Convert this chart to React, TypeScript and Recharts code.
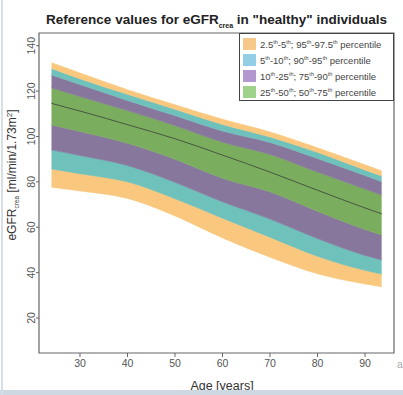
import React from "react";
import { ComposedChart, Area, Line, XAxis, YAxis, ReferenceArea } from "recharts";

const ages = [24, 30, 40, 50, 60, 70, 80, 90, 93.5];
const p025 = [77.6, 76.0, 72.7, 65.0, 55.3, 46.8, 39.5, 35.0, 33.8];
const p05 = [85.7, 83.6, 80.0, 72.6, 64.0, 55.6, 47.2, 41.0, 39.4];
const p10 = [94.1, 91.6, 87.2, 79.8, 71.2, 63.6, 55.0, 47.6, 45.6];
const p25 = [105.1, 102.2, 97.0, 90.0, 81.6, 75.6, 67.0, 59.0, 56.6];
const p50 = [114.6, 111.2, 105.2, 99.0, 91.8, 84.3, 76.3, 68.5, 65.9];
const p75 = [121.5, 117.6, 111.4, 104.8, 97.5, 92.1, 84.3, 76.8, 74.2];
const p90 = [127.1, 122.9, 115.9, 109.2, 102.4, 97.4, 90.3, 82.8, 80.1];
const p95 = [130.0, 125.4, 118.6, 112.0, 105.3, 99.8, 93.0, 85.2, 82.6];
const p975 = [132.5, 128.0, 120.6, 114.0, 107.6, 102.0, 95.0, 87.5, 84.8];

const xTicks = [30, 40, 50, 60, 70, 80, 90];
const yTicks = [20, 40, 60, 80, 100, 120, 140];

const legendItems = [
  { color: "#f6c98a", parts: ["2.5", "th", "-5", "th", "; 95", "th", "-97.5", "th", " percentile"] },
  { color: "#92cfe5", parts: ["5", "th", "-10", "th", "; 90", "th", "-95", "th", " percentile"] },
  { color: "#b398cf", parts: ["10", "th", "-25", "th", "; 75", "th", "-90", "th", " percentile"] },
  { color: "#9fd38b", parts: ["25", "th", "-50", "th", "; 50", "th", "-75", "th", " percentile"] },
];

const C_ORANGE = "#f9c87e";
const C_TEAL = "#6fc1bc";
const C_PURPLE = "#88779d";
const C_GREEN = "#7aae5e";

const data = ages.map((a, i) => ({
  age: a,
  b1: [p025[i], p05[i]],
  b2: [p05[i], p10[i]],
  b3: [p10[i], p25[i]],
  b4: [p25[i], p50[i]],
  b5: [p50[i], p75[i]],
  b6: [p75[i], p90[i]],
  b7: [p90[i], p95[i]],
  b8: [p95[i], p975[i]],
  med: p50[i],
}));

const bands = [
  { key: "b1", color: C_ORANGE },
  { key: "b2", color: C_TEAL },
  { key: "b3", color: C_PURPLE },
  { key: "b4", color: C_GREEN },
  { key: "b5", color: C_GREEN },
  { key: "b6", color: C_PURPLE },
  { key: "b7", color: C_TEAL },
  { key: "b8", color: C_ORANGE },
];

const FONT = "'Liberation Sans', Arial, sans-serif";

const YTick = (props: any) => {
  const { x, y, payload } = props;
  return (
    <text x={x + 1} y={y} transform={`rotate(-90 ${x + 1} ${y})`} textAnchor="middle" fontSize={10.5} fill="#555" fontFamily={FONT}>
      {payload.value}
    </text>
  );
};

const YLabel = () => (
  <text x={16} y={175} transform="rotate(-90 16 175)" textAnchor="middle" fontSize={12} fill="#333" fontFamily={FONT}>
    eGFR<tspan fontSize={6.5} dy={3}>crea</tspan>
    <tspan dy={-3}> [ml/min/1.73m</tspan>
    <tspan fontSize={8} dy={-4}>2</tspan>
    <tspan dy={4}>]</tspan>
  </text>
);

const LegendBox = () => (
  <div
    style={{
      position: "absolute",
      left: 239,
      top: 33,
      width: 155,
      height: 68,
      border: "1px solid #444",
      background: "#fff",
      fontFamily: FONT,
      fontSize: 9.5,
      color: "#444",
      boxSizing: "border-box",
      padding: "2px 0 0 3px",
    }}
  >
    {legendItems.map((it, i) => (
      <div key={i} style={{ display: "flex", alignItems: "center", height: 16, whiteSpace: "nowrap" }}>
        <span style={{ display: "inline-block", width: 13, height: 12, background: it.color, marginRight: 4 }} />
        <span>
          {it.parts.map((p, j) =>
            j % 2 === 1 && j < it.parts.length - 1 ? (
              <sup key={j} style={{ fontSize: 5.5, verticalAlign: "4px" }}>{p}</sup>
            ) : (
              <span key={j}>{p}</span>
            )
          )}
        </span>
      </div>
    ))}
  </div>
);

export default function App() {
  return (
    <div style={{ position: "absolute", left: 0, top: 0, width: 403, height: 395, background: "#fff", overflow: "hidden" }}>
      <div
        style={{
          position: "absolute",
          left: 40,
          top: 12,
          width: 353,
          textAlign: "center",
          fontFamily: FONT,
          fontWeight: "bold",
          fontSize: 13.5,
          color: "#222",
          whiteSpace: "nowrap",
        }}
      >
        Reference values for eGFR<sub style={{ fontSize: 7 }}>crea</sub> in "healthy" individuals
      </div>
      <ComposedChart width={403} height={395} data={data} margin={{ top: 33, right: 9, bottom: 12, left: 9 }}>
        {bands.map((b) => (
          <Area
            key={b.key}
            type="monotone"
            dataKey={b.key}
            fill={b.color}
            fillOpacity={1}
            stroke={b.color}
            strokeWidth={0.6}
            isAnimationActive={false}
            dot={false}
            activeDot={false}
          />
        ))}
        <Line type="monotone" dataKey="med" stroke="#3f4c3a" strokeWidth={0.9} dot={false} activeDot={false} isAnimationActive={false} />
        <XAxis
          dataKey="age"
          type="number"
          domain={[21.37, 96.1]}
          ticks={xTicks}
          allowDataOverflow
          height={30}
          tickSize={4}
          tickMargin={3}
          stroke="#666"
          tick={{ fontSize: 10.5, fill: "#555", fontFamily: FONT }}
          axisLine={false}
        />
        <YAxis
          type="number"
          domain={[4.58, 145.6]}
          ticks={yTicks}
          allowDataOverflow
          width={30}
          tickSize={3}
          tickMargin={2}
          stroke="#666"
          tick={<YTick />}
          axisLine={false}
        />
        <ReferenceArea x1={21.37} x2={96.1} y1={4.58} y2={145.6} fill="none" stroke="#666" strokeWidth={1.2} ifOverflow="visible" />
        <YLabel />
        <text x={222} y={390} textAnchor="middle" fontSize={12.5} fill="#333" fontFamily={FONT}>Age [years]</text>
        <text x={397} y={368} fontSize={10.5} fill="#aaa" fontFamily={FONT}>a</text>
      </ComposedChart>
      <LegendBox />
      <div style={{ position: "absolute", left: 0, top: 390, width: 403, height: 5, background: "#cdd8e3" }} />
      <div style={{ position: "absolute", left: 1, top: 0, width: 2, height: 395, background: "#d6dee6" }} />
    </div>
  );
}
